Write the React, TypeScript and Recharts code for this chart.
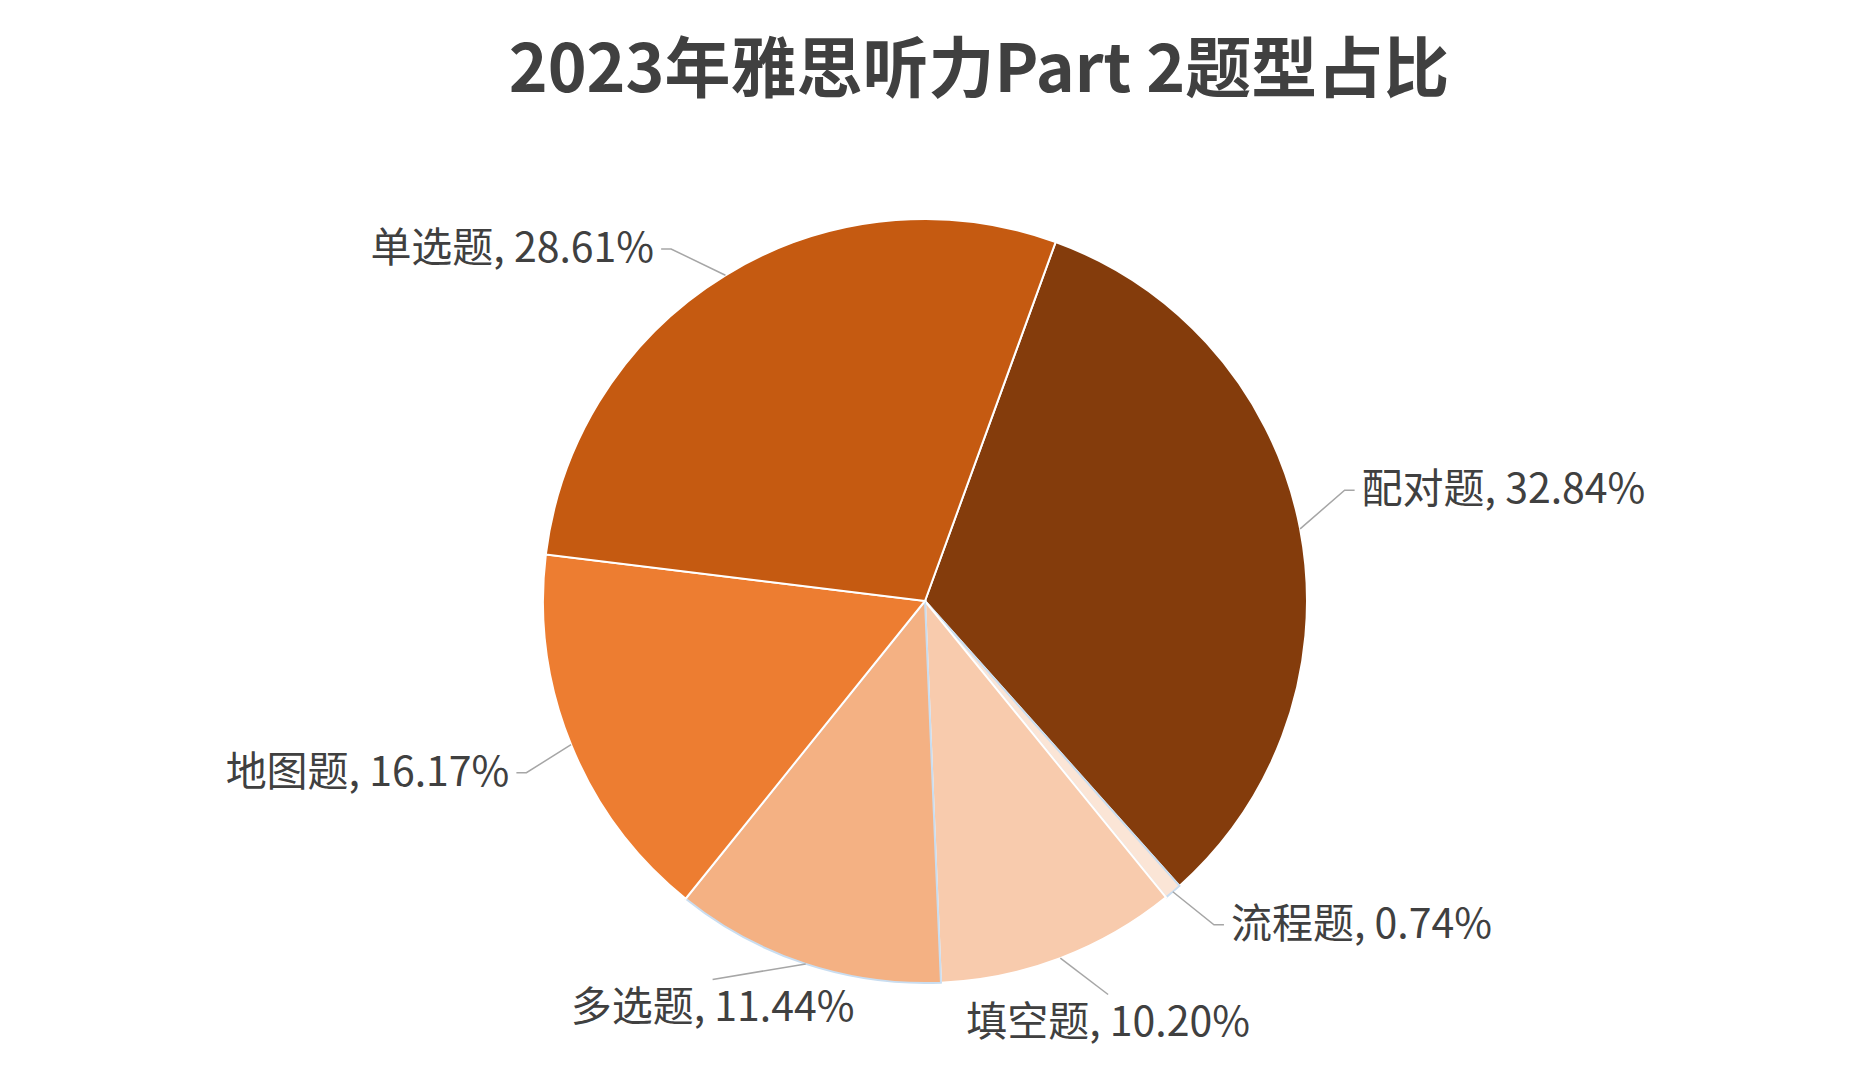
import React from 'react';
import { PieChart, Pie, Cell } from 'recharts';

// slices in clockwise order, starting from 配对题
const categories = ['配对题', '流程题', '填空题', '多选题', '地图题', '单选题'];
const shares = [32.84, 0.74, 10.2, 11.44, 16.17, 28.61];
const colors = ['#843C0C', '#FBE5D6', '#F8CBAD', '#F4B183', '#ED7D31', '#C55A11'];
const outlines = ['#FFFFFF', '#C9DDF0', '#FFFFFF', '#C9DDF0', '#FFFFFF', '#FFFFFF'];
// small clockwise angle tweaks for the label leader lines (degrees)
const labelNudge = [-3.9, -1.3, -4.2, 11.1, -1.2, -4.3];

const data = categories.map((name, i) => ({ name, value: shares[i] }));

const RAD = Math.PI / 180;
const FONT = '"Noto Sans CJK SC", "Noto Sans", sans-serif';

const renderLabel = (props: any) => {
  const { cx, cy, midAngle, outerRadius, index } = props;
  const ex = cx + outerRadius * Math.cos(-midAngle * RAD);
  const ey = cy + outerRadius * Math.sin(-midAngle * RAD);
  const a = midAngle - labelNudge[index];
  const r2 = outerRadius + 52;
  const kx = cx + r2 * Math.cos(-a * RAD);
  const ky = cy + r2 * Math.sin(-a * RAD);
  const text = `${categories[index]}, ${shares[index].toFixed(2)}%`;
  const isBottom = Math.sin(-a * RAD) > 0.8;

  if (isBottom) {
    return (
      <g>
        <path d={`M${ex},${ey}L${kx},${ky}`} stroke="#A6A6A6" strokeWidth={1.5} fill="none" />
        <text x={kx} y={ky + 24} textAnchor="middle" dominantBaseline="central"
          fill="#404040" fontSize={41} fontFamily={FONT}>
          {text}
        </text>
      </g>
    );
  }

  const right = Math.cos(-a * RAD) > 0;
  const sx = kx + (right ? 10 : -10);
  return (
    <g>
      <path d={`M${ex},${ey}L${kx},${ky}L${sx},${ky}`} stroke="#A6A6A6" strokeWidth={1.5} fill="none" />
      <text x={sx + (right ? 7 : -7)} y={ky - 5} textAnchor={right ? 'start' : 'end'}
        dominantBaseline="central" fill="#404040" fontSize={41} fontFamily={FONT}>
        {text}
      </text>
    </g>
  );
};

const App: React.FC = () => {
  return (
    <div style={{ position: 'absolute', left: 0, top: 0, width: 1852, height: 1088, background: '#FFFFFF' }}>
      <div
        style={{
          position: 'absolute',
          left: 0,
          width: 1958,
          top: 15,
          textAlign: 'center',
          fontFamily: FONT,
          fontWeight: 700,
          fontSize: 66,
          lineHeight: '96px',
          color: '#404040',
        }}
      >
        2023年雅思听力Part 2题型占比
      </div>
      <PieChart width={1852} height={1088}>
        <Pie
          data={data}
          dataKey="value"
          nameKey="name"
          cx={920}
          cy={596}
          outerRadius={382}
          startAngle={70}
          endAngle={-290}
          label={renderLabel}
          labelLine={false}
          isAnimationActive={false}
        >
          {data.map((d, i) => (
            <Cell key={d.name} fill={colors[i]} stroke={outlines[i]} strokeWidth={2} />
          ))}
        </Pie>
      </PieChart>
    </div>
  );
};

export default App;
